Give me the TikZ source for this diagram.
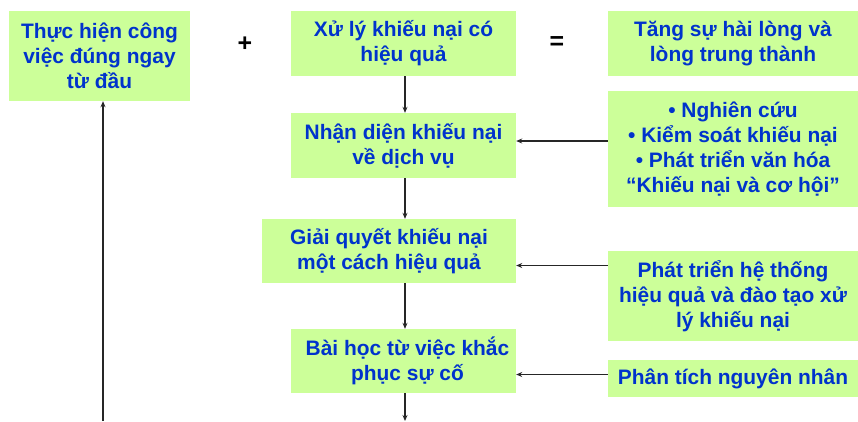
\documentclass[tikz,border=0pt]{standalone}
\usepackage{fontspec}
\setmainfont{Liberation Sans}
\usetikzlibrary{arrows.meta}
\definecolor{boxfill}{HTML}{CCFF99}
\definecolor{boxtext}{HTML}{0033CC}
\tikzset{
  box/.style={draw=none, fill=boxfill, text=boxtext, align=center, inner sep=0pt,
    font=\bfseries\fontsize{21}{25}\selectfont},
  sym/.style={text=black, inner sep=0pt, font=\bfseries\fontsize{25}{25}\selectfont},
  arr/.style={draw=black!85, line width=1.3bp, -{Stealth[length=6bp,width=5bp]}}
}
\begin{document}
\begin{tikzpicture}[x=1bp,y=-1bp]
\useasboundingbox (0,0) rectangle (858,421);
\node[box, minimum width=181bp, minimum height=90bp] (b1) at (99.5,56) {Thực hiện công\\việc đúng ngay\\từ đầu};
\node[box, minimum width=225bp, minimum height=65bp] (b2) at (403.5,43.5) {Xử lý khiếu nại có\\hiệu quả};
\node[box, minimum width=250bp, minimum height=65bp] (b3) at (733,43.5) {Tăng sự hài lòng và\\lòng trung thành};
\node[box, minimum width=225bp, minimum height=65bp] (b4) at (403.5,145.5) {Nhận diện khiếu nại\\về dịch vụ};
\node[box, minimum width=250bp, minimum height=116bp] (b5) at (733,149) {• Nghiên cứu\\• Kiểm soát khiếu nại\\• Phát triển văn hóa\\“Khiếu nại và cơ hội”};
\node[box, minimum width=254bp, minimum height=64bp] (b6) at (389,251) {Giải quyết khiếu nại\\một cách hiệu quả};
\node[box, minimum width=225bp, minimum height=64bp] (b7) at (403.5,361) {\hspace*{8bp}Bài học từ việc khắc\\\hspace*{8bp}phục sự cố};
\node[box, minimum width=250bp, minimum height=90bp] (b8) at (733,296) {Phát triển hệ thống\\hiệu quả và đào tạo xử\\lý khiếu nại};
\node[box, minimum width=250bp, minimum height=37bp] (b9) at (733,378.5) {Phân tích nguyên nhân};
\node[sym] (plus) at (245,44) {+};
\node[sym] (eq) at (557,43) {=};
\coordinate (col) at (405,0);
\coordinate (lcol) at (103,0);
\coordinate (bend) at (405,421);
\coordinate (lend) at (103,421);
\coordinate (h1) at (0,141);
\coordinate (h2) at (0,265.5);
\coordinate (h3) at (0,374.5);
\draw[arr] (b2.south -| col) -- (b4.north -| col);
\draw[arr] (b4.south -| col) -- (b6.north -| col);
\draw[arr] (b6.south -| col) -- (b7.north -| col);
\draw[arr] (b7.south -| col) -- (bend);
\draw[arr] (lend) -- (b1.south -| lcol);
\draw[arr] (b5.west |- h1) -- (b4.east |- h1);
\draw[arr] (b8.west |- h2) -- (b6.east |- h2);
\draw[arr] (b9.west |- h3) -- (b7.east |- h3);
\end{tikzpicture}
\end{document}
